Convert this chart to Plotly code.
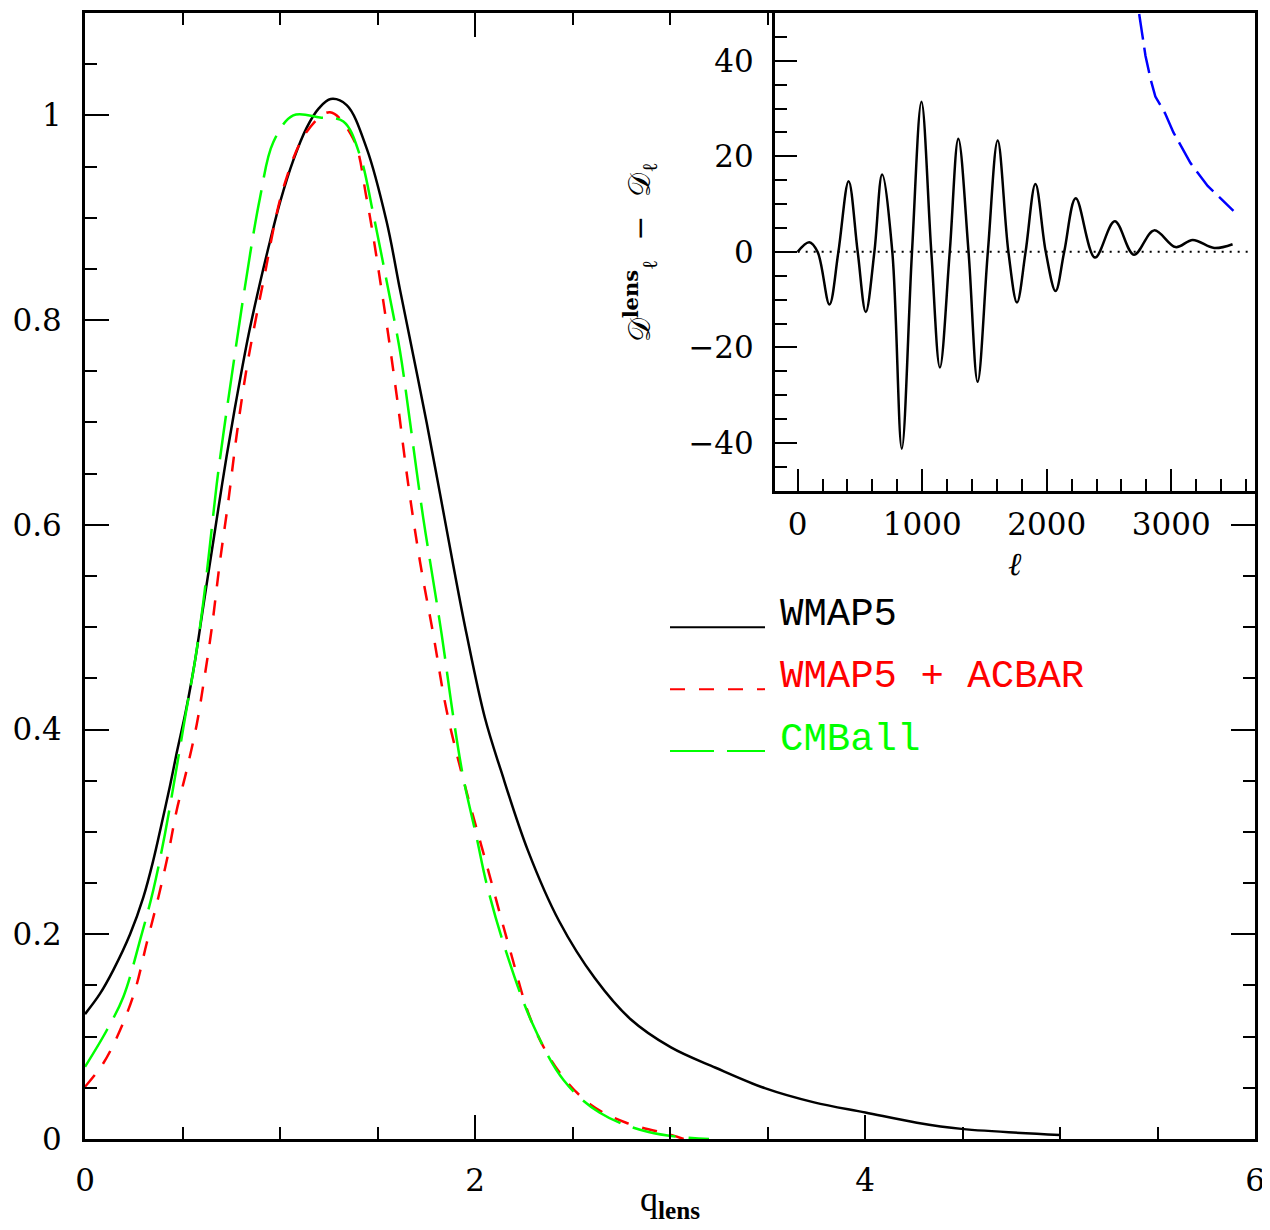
import plotly.graph_objects as go

# ---------------- main panel data: normalised likelihood vs q_lens ----------------
wmap5_q = [0.0, 0.077, 0.145, 0.231, 0.299, 0.350, 0.393, 0.436, 0.470, 0.517, 0.564, 0.607,
           0.658, 0.692, 0.727, 0.778, 0.838, 0.897, 0.950, 1.000, 1.068, 1.137, 1.200, 1.260,
           1.342, 1.444, 1.547, 1.615, 1.684, 1.752, 1.821, 1.889, 1.957, 2.050, 2.133, 2.271,
           2.431, 2.615, 2.798, 3.005, 3.234, 3.486, 3.739, 4.002, 4.266, 4.495, 5.0]
wmap5_p = [0.122, 0.142, 0.165, 0.200, 0.236, 0.272, 0.308, 0.345, 0.377, 0.418, 0.467, 0.521,
           0.584, 0.626, 0.668, 0.724, 0.785, 0.836, 0.878, 0.915, 0.956, 0.988, 1.007, 1.016,
           1.010, 0.968, 0.896, 0.830, 0.765, 0.700, 0.630, 0.560, 0.493, 0.412, 0.360, 0.282,
           0.213, 0.157, 0.117, 0.0895, 0.0696, 0.0497, 0.0358, 0.0259, 0.0159, 0.0099, 0.004]

acbar_q = [0.0, 0.094, 0.179, 0.256, 0.316, 0.376, 0.427, 0.470, 0.521, 0.573, 0.607, 0.650,
           0.692, 0.735, 0.778, 0.829, 0.880, 0.915, 1.017, 1.137, 1.256, 1.376, 1.444, 1.530,
           1.598, 1.658, 1.718, 1.786, 1.855, 1.950, 2.064, 2.179, 2.294, 2.431, 2.592, 2.775,
           3.005, 3.07]
acbar_p = [0.051, 0.074, 0.106, 0.145, 0.191, 0.236, 0.279, 0.321, 0.360, 0.405, 0.444, 0.499,
           0.564, 0.623, 0.688, 0.753, 0.805, 0.838, 0.929, 0.984, 1.003, 0.977, 0.919, 0.818,
           0.727, 0.639, 0.564, 0.493, 0.418, 0.344, 0.265, 0.185, 0.113, 0.0657, 0.0338, 0.0159,
           0.004, 0.0]

cmball_q = [0.0, 0.111, 0.197, 0.282, 0.350, 0.410, 0.470, 0.517, 0.564, 0.607, 0.641, 0.675,
            0.709, 0.752, 0.810, 0.897, 0.966, 1.068, 1.205, 1.325, 1.410, 1.479, 1.547, 1.615,
            1.660, 1.701, 1.735, 1.769, 1.829, 1.889, 1.940, 2.009, 2.060, 2.156, 2.294, 2.454,
            2.638, 2.890, 3.200]
cmball_p = [0.0705, 0.106, 0.139, 0.194, 0.243, 0.298, 0.363, 0.416, 0.467, 0.525, 0.581, 0.639,
            0.688, 0.745, 0.820, 0.919, 0.974, 1.000, 0.998, 0.994, 0.961, 0.903, 0.838, 0.770,
            0.710, 0.652, 0.606, 0.565, 0.493, 0.412, 0.353, 0.294, 0.249, 0.185, 0.113, 0.0577,
            0.0259, 0.0068, 0.0]

# ---------------- inset data: D_l^lens - D_l vs multipole ----------------
inset_ell = [0, 93, 160, 255, 327, 409, 482, 547, 616, 678, 760, 836, 918, 994, 1073, 1142,
             1221, 1290, 1372, 1445, 1527, 1606, 1692, 1761, 1830, 1909, 1992, 2071, 2140,
             2233, 2387, 2546, 2700, 2862, 3034, 3172, 3344, 3492]
inset_dd = [0, 2.0, 0, -11.0, 0, 14.8, 0, -12.6, 0, 16.2, 0, -41.2, 0, 31.4, 0, -24.2,
            0, 23.7, 0, -27.2, 0, 23.3, 0, -10.6, 0, 14.2, 0, -8.2, 0,
            11.2, -1.2, 6.4, -0.6, 4.5, 1.0, 2.5, 0.8, 1.6]

blue_ell = [2742, 2793, 2835, 2872, 2950, 3017, 3154, 3292, 3499]
blue_dd = [49.8, 41.0, 36.0, 32.5, 29.0, 25.0, 18.6, 13.8, 8.6]

zero_ell = [0, 3650]
zero_dd = [0, 0]

legend_names = ["WMAP5", "WMAP5 + ACBAR", "CMBall"]
legend_colors = ["#000000", "#ff0000", "#00ff00"]
legend_dashes = ["solid", "15px,14px", "44px,13px"]

TICKFONT = dict(family="DejaVu Serif", size=31, color="black")

fig = go.Figure()

fig.add_trace(go.Scatter(x=wmap5_q, y=wmap5_p, mode="lines",
                         line=dict(color="#000000", width=2.5, shape="spline", smoothing=1.0),
                         xaxis="x", yaxis="y"))
fig.add_trace(go.Scatter(x=acbar_q, y=acbar_p, mode="lines",
                         line=dict(color="#ff0000", width=2.5, dash=legend_dashes[1],
                                   shape="spline", smoothing=1.0),
                         xaxis="x", yaxis="y"))
fig.add_trace(go.Scatter(x=cmball_q, y=cmball_p, mode="lines",
                         line=dict(color="#00ff00", width=2.5, dash=legend_dashes[2],
                                   shape="spline", smoothing=1.0),
                         xaxis="x", yaxis="y"))

fig.add_trace(go.Scatter(x=zero_ell, y=zero_dd, mode="lines",
                         line=dict(color="black", width=2, dash="2px,6px"),
                         xaxis="x2", yaxis="y2"))
fig.add_trace(go.Scatter(x=inset_ell, y=inset_dd, mode="lines",
                         line=dict(color="black", width=2.5, shape="spline", smoothing=1.0),
                         xaxis="x2", yaxis="y2"))
fig.add_trace(go.Scatter(x=blue_ell, y=blue_dd, mode="lines",
                         line=dict(color="#0000ff", width=2.5, dash="26px,8px"),
                         xaxis="x2", yaxis="y2"))

# plot-area geometry in page pixels (page has an 8px body margin)
PW, PH = 1170.0, 1129.0
L, B = 85.0, 1139.0


def px(xp):
    return (xp - L) / PW


def py(yp):
    return (B - yp) / PH


common = dict(showgrid=False, zeroline=False, showline=True, linecolor="black",
              ticks="inside", tickcolor="black", tickwidth=2, tickfont=TICKFONT)

fig.update_layout(
    width=1262, height=1222,
    margin=dict(l=77, r=15, t=2, b=91),
    paper_bgcolor="white", plot_bgcolor="white",
    showlegend=False,
    xaxis=dict(domain=[0, 1], range=[0, 6], tick0=0, dtick=2, ticklen=24, linewidth=3,
               mirror="ticks", anchor="y", ticklabelstandoff=12,
               minor=dict(dtick=0.5, ticklen=12, tickwidth=2, ticks="inside", tickcolor="black"),
               **common),
    yaxis=dict(domain=[0, 1], range=[0, 1.1], tick0=0, dtick=0.2, ticklen=24, linewidth=3,
               mirror="ticks", anchor="x", ticklabelstandoff=14,
               minor=dict(dtick=0.05, ticklen=12, tickwidth=2, ticks="inside", tickcolor="black"),
               **common),
    xaxis2=dict(domain=[px(775), 1], range=[-182, 3672], tick0=0, dtick=1000, ticklen=22,
                linewidth=3, anchor="y2", ticklabelstandoff=4,
                minor=dict(dtick=200, ticklen=12, tickwidth=2, ticks="inside", tickcolor="black"),
                **common),
    yaxis2=dict(domain=[py(489), 1], range=[-50, 50], tick0=0, dtick=20, ticklen=22,
                linewidth=3, anchor="x2", ticklabelstandoff=12,
                minor=dict(dtick=5, ticklen=12, tickwidth=2, ticks="inside", tickcolor="black"),
                **common),
)

annotations = [
    dict(text="q<sub><b>lens</b></sub>", x=0.5, y=py(1202), xref="paper", yref="paper",
         showarrow=False, xanchor="center", yanchor="middle",
         font=dict(family="Liberation Serif", size=36, color="black")),
    dict(text="<i>ℓ</i>", x=px(1015), y=py(562), xref="paper", yref="paper",
         showarrow=False, xanchor="center", yanchor="middle",
         font=dict(family="DejaVu Serif", size=32, color="black")),
    dict(text="𝒟<sup><b>lens</b></sup><sub>ℓ</sub>  −  𝒟<sub>ℓ</sub>", x=px(640), y=py(250),
         xref="paper", yref="paper", showarrow=False, textangle=-90,
         xanchor="center", yanchor="middle",
         font=dict(family="DejaVu Serif", size=30, color="black")),
]

shapes = []
line_y = [626, 688, 750]
text_y = [614, 676, 739]
for name, col, dash, ly, ty in zip(legend_names, legend_colors, legend_dashes, line_y, text_y):
    shapes.append(dict(type="line", xref="paper", yref="paper",
                       x0=px(670), x1=px(765), y0=py(ly), y1=py(ly),
                       line=dict(color=col, width=2, dash=dash)))
    annotations.append(dict(text=name, x=px(778), y=py(ty), xref="paper", yref="paper",
                            showarrow=False, xanchor="left", yanchor="middle",
                            font=dict(family="Liberation Mono", size=39, color=col)))

fig.update_layout(annotations=annotations, shapes=shapes)

fig.write_html("out.html")
